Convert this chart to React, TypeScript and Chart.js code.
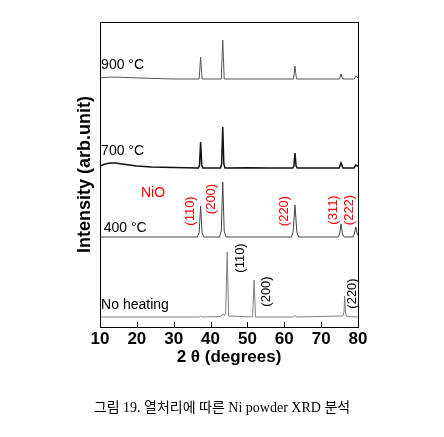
import React, { useEffect, useRef } from 'react';
import { Chart, registerables } from 'chart.js';

Chart.register(...registerables);

// x axis (2θ, degrees)
const X_MIN = 10;
const X_MAX = 80;
const xTickValues = [10, 20, 30, 40, 50, 60, 70, 80];

// vertical offsets of each pattern (arbitrary intensity units)
const offset900 = 248;
const offset700 = 159;
const offset400 = 90;
const offsetNoHeat = 10;

// 900 °C pattern
const x900 = [10, 12, 15, 19, 24, 30, 36.9, 37.3, 37.7, 42.9, 43.3, 43.7, 62.5, 62.9, 63.3, 75.0, 75.4, 75.8, 79.0, 79.4, 80];
const y900 = [1, 1.8, 1.8, 1.2, 0.6, 0, 0, 22, 0, 0, 39, 0, 0, 13, 0, 0, 5, 0, 0, 3, 1];

// 700 °C pattern
const x700 = [10, 11, 12, 13, 14, 15, 16, 17, 18, 20, 22, 24, 27, 30, 33, 36.7, 37.0, 37.3, 37.6, 37.9, 42.7, 43.0, 43.3, 43.6, 43.9, 50, 56, 62.3, 62.6, 62.9, 63.2, 63.5, 70, 74.9, 75.4, 75.9, 78.9, 79.4, 80];
const y700 = [2, 3.5, 4.5, 5, 5, 4.5, 4, 3.5, 3, 2, 1.5, 1, 0.8, 0.5, 0.3, 0, 3, 26, 3, 0, 0, 4, 41, 4, 0, 0.3, 0, 0, 2, 15, 2, 0, 0, 0, 5, 0, 0, 3, 1.5];

// 400 °C pattern (NiO)
const x400 = [10, 20, 30, 36.4, 36.9, 37.3, 37.7, 38.2, 42.4, 42.9, 43.3, 43.7, 44.2, 55, 61.9, 62.4, 62.9, 63.4, 63.9, 70, 74.6, 75.0, 75.4, 75.8, 76.3, 78.6, 79.0, 79.4, 79.8, 80];
const y400 = [0, 0, 0, 0, 4, 31, 4, 0, 0, 6, 55, 6, 0, 0, 0, 5, 32, 5, 0, 0, 0, 3, 13, 3, 0, 0, 3, 10, 3, 1.5];

// No heating pattern (Ni)
const xNoHeat = [10, 20, 30, 36.9, 37.3, 37.7, 42.8, 43.3, 43.8, 44.1, 44.5, 44.9, 51.4, 51.8, 52.2, 62.5, 62.9, 63.3, 75.9, 76.2, 76.4, 76.6, 76.9, 80];
const yNoHeat = [0, 0, 0, 0, 1, 0, 0.5, 3, 1.5, 4, 65, 1, 0, 37, 0, 0, 1.5, 0, 1, 5, 21, 5, 0.5, 0];

// horizontal text annotations
const hTexts = ['900 °C', '700 °C', '400 °C', 'No heating', 'NiO'];
const hX = [10.3, 10.3, 11.0, 10.3, 21.1];
const hY = [258.5, 172, 95.5, 18, 130.3];
const hColors = ['#000', '#000', '#000', '#000', '#ff0000'];

// rotated (vertical) Miller-index annotations
const vTexts = ['(110)', '(200)', '(220)', '(311)', '(222)', '(110)', '(200)', '(220)'];
const vX = [34.4, 40.35, 60.1, 73.2, 77.75, 48.2, 55.2, 78.6];
const vY = [116, 128, 116, 117, 117, 69, 35.5, 33.5];
const vColors = ['#ff0000', '#ff0000', '#ff0000', '#ff0000', '#ff0000', '#000', '#000', '#000'];

const toPoints = (xs: number[], ys: number[], off: number) => xs.map((x, i) => ({ x, y: off + ys[i] }));

const decorPlugin = {
  id: 'decor',
  afterDraw(chart: any) {
    const { ctx, chartArea, scales } = chart;
    const xs = scales.x;
    const ys = scales.y;
    ctx.save();
    // frame
    ctx.strokeStyle = '#000';
    ctx.lineWidth = 1;
    ctx.strokeRect(chartArea.left + 0.5, chartArea.top + 0.5, chartArea.right - chartArea.left, chartArea.bottom - chartArea.top);
    // inward ticks on the bottom axis
    ctx.beginPath();
    xTickValues.forEach((v) => {
      const px = Math.round(xs.getPixelForValue(v)) + 0.5;
      ctx.moveTo(px, chartArea.bottom);
      ctx.lineTo(px, chartArea.bottom - 5);
    });
    ctx.stroke();
    // horizontal labels
    ctx.font = '14px "Liberation Sans", Arial, sans-serif';
    ctx.textAlign = 'left';
    ctx.textBaseline = 'alphabetic';
    hTexts.forEach((t, i) => {
      ctx.fillStyle = hColors[i];
      ctx.fillText(t, xs.getPixelForValue(hX[i]), ys.getPixelForValue(hY[i]));
    });
    // vertical labels
    ctx.font = '13px "Liberation Sans", Arial, sans-serif';
    ctx.textAlign = 'center';
    ctx.textBaseline = 'middle';
    vTexts.forEach((t, i) => {
      const px = xs.getPixelForValue(vX[i]);
      const py = ys.getPixelForValue(vY[i]);
      ctx.save();
      ctx.translate(px, py);
      ctx.rotate(-Math.PI / 2);
      ctx.fillStyle = vColors[i];
      ctx.fillText(t, 0, 0);
      ctx.restore();
    });
    ctx.restore();
  },
};

export default function App() {
  const canvasRef = useRef<HTMLCanvasElement | null>(null);

  useEffect(() => {
    const canvas = canvasRef.current;
    if (!canvas) return;
    const chart = new Chart(canvas, {
      type: 'line',
      data: {
        datasets: [
          { label: '900 °C', data: toPoints(x900, y900, offset900), borderColor: '#555', borderWidth: 1, pointRadius: 0, tension: 0 },
          { label: '700 °C', data: toPoints(x700, y700, offset700), borderColor: '#111', borderWidth: 1.5, pointRadius: 0, tension: 0 },
          { label: '400 °C', data: toPoints(x400, y400, offset400), borderColor: '#444', borderWidth: 1, pointRadius: 0, tension: 0 },
          { label: 'No heating', data: toPoints(xNoHeat, yNoHeat, offsetNoHeat), borderColor: '#808080', borderWidth: 1, pointRadius: 0, tension: 0 },
        ],
      },
      options: {
        animation: false,
        responsive: false,
        devicePixelRatio: 1,
        events: [],
        layout: { padding: { top: 22, right: 86, bottom: 70, left: 0 } },
        plugins: { legend: { display: false }, tooltip: { enabled: false } },
        scales: {
          x: {
            type: 'linear',
            min: X_MIN,
            max: X_MAX,
            grid: { display: false, drawTicks: false },
            border: { display: false },
            afterBuildTicks: (s: any) => { s.ticks = xTickValues.map((v) => ({ value: v })); },
            afterFit: (s: any) => { s.height = 40; },
            ticks: {
              color: '#000',
              padding: 2,
              maxRotation: 0,
              font: { family: '"Liberation Sans", Arial, sans-serif', size: 17, weight: 'bold' },
            },
            title: {
              display: true,
              text: '2 θ (degrees)',
              color: '#000',
              padding: { top: 0, bottom: 0 },
              font: { family: '"Liberation Sans", Arial, sans-serif', size: 17, weight: 'bold', lineHeight: 1.1 },
            },
          },
          y: {
            type: 'linear',
            min: 0,
            max: 305,
            grid: { display: false, drawTicks: false },
            border: { display: false },
            ticks: { display: false },
            afterFit: (s: any) => { s.width = 100; },
            title: {
              display: true,
              text: 'Intensity (arb.unit)',
              color: '#000',
              padding: { top: 74, bottom: 0 },
              font: { family: '"Liberation Sans", Arial, sans-serif', size: 18, weight: 'bold' },
            },
          },
        },
      },
      plugins: [decorPlugin],
    } as any);
    return () => chart.destroy();
  }, []);

  return (
    <div style={{ position: 'fixed', left: 0, top: 0, width: 444, height: 437, background: '#fff' }}>
      <canvas ref={canvasRef} width={444} height={437} style={{ width: 444, height: 437, display: 'block' }} />
      <div
        style={{
          position: 'absolute',
          left: 0,
          top: 396,
          width: 444,
          textAlign: 'center',
          fontFamily: '"Liberation Serif", "Noto Sans CJK KR", serif',
          fontSize: 14,
          color: '#000',
          whiteSpace: 'pre',
        }}
      >
        {'그림 19. 열처리에 따른 Ni powder XRD 분석'}
      </div>
    </div>
  );
}
